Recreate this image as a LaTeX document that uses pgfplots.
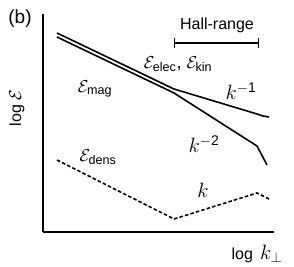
\documentclass[border=0pt]{standalone}
\usepackage{amsmath}
\usepackage{fontspec}
\setmainfont{Liberation Sans}
\usepackage{pgfplots}
\pgfplotsset{compat=1.18}
\newcommand{\Esub}[1]{\mathcal{E}_{\text{#1}}}
\newcommand{\mf}{\fontsize{18}{20}\selectfont}
\newcommand{\kf}{\fontsize{20}{22}\selectfont}
\begin{document}
\begin{tikzpicture}
\begin{axis}[
  scale only axis, width=231pt, height=218pt,
  xmin=43, xmax=274, ymin=-232, ymax=-14,
  axis x line=bottom, axis y line=left,
  axis line style={-, line width=2.2pt},
  xtick=\empty, ytick=\empty,
  clip=false,
  font=\fontsize{16}{18}\selectfont,
]
\path (axis cs:0,0) (axis cs:294,-266);
% upper curve (k^-1)
\addplot[black, line width=1.6pt] coordinates {(57,-33) (174,-89) (257,-114) (263,-116) (269,-117)};
% lower curve (k^-2)
\addplot[black, line width=1.6pt] coordinates {(57,-37) (174,-93) (257,-146) (267,-165)};
% dashed density
\addplot[black, line width=1.6pt, dash pattern=on 3.5pt off 2.2pt] coordinates {(57,-160) (174,-219) (257,-193) (269,-199)};
% Hall range bar
\addplot[black, line width=1.4pt, |-|] coordinates {(174,-43) (259,-43)};
\node at (axis cs:20,-19) {\fontsize{19}{21}\selectfont(b)};
\node[rotate=90] at (axis cs:17,-108) {log \mf$\mathcal{E}$};
\node at (axis cs:95,-89) {\mf$\Esub{mag}$};
\node at (axis cs:178,-64) {\mf$\Esub{elec}$, $\Esub{kin}$};
\node at (axis cs:217,-25) {Hall-range};
\node at (axis cs:241,-91) {\kf$k^{\text{$-$1}}$};
\node at (axis cs:204,-144) {\kf$k^{\text{$-$2}}$};
\node at (axis cs:203,-190) {\kf$k$};
\node at (axis cs:98,-157) {\mf$\Esub{dens}$};
\node at (axis cs:257,-254) {log\, \kf$k_{\perp}$};
\end{axis}
\end{tikzpicture}
\end{document}
